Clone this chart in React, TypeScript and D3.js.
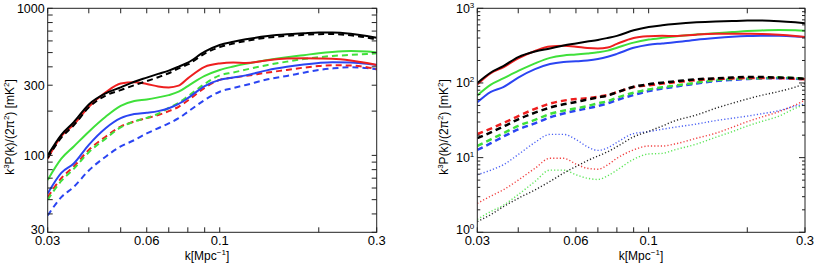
import React from 'react';
import * as d3 from 'd3';

// wavenumbers shared by every curve
const kValues = [0.03, 0.033, 0.036, 0.04, 0.045, 0.05, 0.055, 0.06, 0.065, 0.07, 0.075, 0.08,
  0.09, 0.1, 0.11, 0.12, 0.14, 0.16, 0.18, 0.2, 0.22, 0.25, 0.28, 0.3];

// full signal (solid), both panels
const blackSolid = [100, 138, 168, 222, 264, 290, 317, 338, 358, 377, 401, 427, 507, 563, 592, 615, 648, 666, 676, 684, 686, 672, 648, 630];
const redSolid = [95, 135, 162, 214, 268, 308, 314, 306, 294, 290, 298, 334, 400, 422, 428, 424, 444, 455, 457, 456, 454, 442, 425, 412];
const greenSolid = [68, 95, 115, 145, 183, 217, 234, 240, 248, 257, 271, 296, 347, 381, 402, 419, 445, 465, 480, 495, 505, 512, 508, 500];
const blueSolid = [55, 76, 88, 118, 153, 179, 191, 195, 200, 209, 224, 245, 296, 326, 338, 350, 380, 400, 415, 425, 430, 428, 420, 412];

// left panel, dashed
const blackDashL = [96, 132, 160, 212, 255, 278, 300, 320, 340, 362, 390, 415, 492, 545, 576, 600, 632, 650, 660, 667, 668, 655, 632, 612];
const redDashL = [52, 70, 84, 109, 134, 157, 170, 179, 188, 200, 214, 236, 288, 326, 338, 347, 366, 381, 395, 405, 410, 408, 398, 385];
const greenDashL = [50, 67, 81, 105, 130, 155, 170, 180, 192, 210, 228, 252, 306, 350, 366, 383, 412, 434, 452, 465, 474, 482, 489, 494];
const blueDashL = [39, 52, 61, 79, 98, 115, 127, 141, 153, 165, 179, 198, 238, 271, 287, 301, 329, 347, 365, 381, 390, 397, 392, 385];

// right panel, dashed
const blackDashR = [18.2, 21.8, 26, 32.6, 40, 46.8, 51.8, 55.6, 60, 64, 68, 75, 89, 96, 101, 105, 112, 115.5, 118, 120, 120, 118, 116, 114];
const redDashR = [20.7, 24.5, 29, 36, 45, 53, 58, 61, 62.5, 65.5, 69, 75, 88, 93, 98, 102, 109, 113, 115, 117, 117, 116, 114, 112];
const greenDashR = [14.3, 17.6, 21.2, 26.6, 32, 38.5, 42.6, 45.7, 49, 53.4, 57, 63.6, 74, 82, 87.5, 92, 101, 109, 113, 115, 116, 118, 116, 114];
const blueDashR = [12.7, 15.6, 19.1, 23.9, 28.8, 34.7, 39, 42.6, 45.7, 49, 53.4, 59, 69, 78, 84, 89, 98, 106, 110, 113, 115, 116, 114, 112];

// right panel, dotted
const blackDotR = [1.39, 1.73, 2.2, 2.85, 3.7, 4.8, 6.2, 7.6, 9.1, 10.5, 12, 14, 19, 22.5, 26.5, 31, 37.3, 45.8, 53.5, 61, 68, 77, 88, 98];
const redDotR = [2.44, 3.06, 3.7, 5.0, 7.2, 9.8, 9.8, 8.2, 7.2, 7.0, 8, 9.8, 12.7, 14.3, 14.3, 15.2, 18.2, 21.2, 25.5, 30.3, 34.7, 41.3, 50.7, 59];
const greenDotR = [1.49, 1.9, 2.3, 3.2, 4.8, 6.8, 6.8, 5.9, 5.3, 5.1, 5.7, 6.8, 9.5, 11.2, 11.4, 12.7, 15.2, 18.7, 22.3, 26.5, 30.3, 36, 45.8, 52];
const blueDotR = [5.9, 6.8, 8.0, 11, 16, 20.5, 20.5, 17.5, 14, 12.5, 13.5, 16, 21, 22.3, 24, 25.5, 28.2, 31.3, 33.7, 36, 38.5, 42.6, 49, 52];

const xTicks = [0.03, 0.04, 0.05, 0.06, 0.07, 0.08, 0.09, 0.1, 0.2, 0.3];
const xLabels = ['0.03', '0.06', '0.1', '0.3'];
const leftYLabels = ['30', '100', '300', '1000'];
const rightYLabels = ['0', '1', '2', '3']; // exponents of 10

const RED = '#ee1f1f';
const GREEN = '#3fe03a';
const BLUE = '#2b45f2';
const BLACK = '#000';

const font = '"Liberation Sans", Arial, sans-serif';

const line = (x, y) =>
  d3.line<number>()
    .x((_, i) => x(kValues[i]))
    .y(d => y(d))
    .curve(d3.curveMonotoneX);

function Panel({ x0, x1, y0, y1, yDomain, series, log10Labels, titleX, xTitleX }) {
  const x = d3.scaleLog().domain([0.03, 0.3]).range([x0, x1]);
  const y = d3.scaleLog().domain(yDomain).range([y1, y0]);
  const yTicks = y.ticks();
  const gen = line(x, y);
  const clipId = `clip${Math.round(x0)}`;
  // lowest label sits a touch higher so it clears the 0.03 label
  const labelY = v => y(v) + 4.5 - (Math.abs(y(v) - y1) < 1 ? 2.5 : 0);
  return (
    <g>
      <defs>
        <clipPath id={clipId}>
          <rect x={x0} y={y0} width={x1 - x0} height={y1 - y0} />
        </clipPath>
      </defs>
      <g clipPath={`url(#${clipId})`}>
        {series.map((s, i) => (
          <path key={i} d={gen(s.values)} fill="none" stroke={s.color}
            strokeWidth={s.width} strokeDasharray={s.dash} opacity={s.opacity ?? 1} />
        ))}
      </g>
      <rect x={x0} y={y0} width={x1 - x0} height={y1 - y0} fill="none" stroke="#222" strokeWidth={1} />
      {xTicks.map(t => (
        <g key={t}>
          <line x1={x(t)} x2={x(t)} y1={y1} y2={y1 - 5} stroke="#222" />
          <line x1={x(t)} x2={x(t)} y1={y0} y2={y0 + 5} stroke="#222" />
        </g>
      ))}
      {yTicks.map(t => {
        const major = Math.abs(Math.log10(t) - Math.round(Math.log10(t))) < 1e-6;
        const len = log10Labels ? (major ? 6 : 3) : 5;
        return (
          <g key={t}>
            <line x1={x0} x2={x0 + len} y1={y(t)} y2={y(t)} stroke="#222" />
            <line x1={x1} x2={x1 - len} y1={y(t)} y2={y(t)} stroke="#222" />
          </g>
        );
      })}
      {xLabels.map(l => (
        <text key={l} x={x(+l)} y={y1 + 13} textAnchor="middle" fontSize={13} fontFamily={font}>{l}</text>
      ))}
      {log10Labels
        ? rightYLabels.map(e => (
          <text key={e} x={x0 - 3} y={labelY(Math.pow(10, +e))} textAnchor="end" fontSize={12.5} fontFamily={font}>
            10<tspan fontSize={8} dy={-5}>{e}</tspan>
          </text>
        ))
        : leftYLabels.map(l => (
          <text key={l} x={x0 - 3} y={labelY(+l)} textAnchor="end" fontSize={12.5} fontFamily={font}>{l}</text>
        ))}
      <text x={xTitleX} y={260} textAnchor="middle" fontSize={12} fontFamily={font}>
        k[Mpc<tspan fontSize={8} dy={-5}>−1</tspan><tspan dy={5}>]</tspan>
      </text>
      <text transform={`translate(${titleX},127) rotate(-90)`} textAnchor="middle" fontSize={12} fontFamily={font}>
        k<tspan fontSize={8} dy={-5}>3</tspan><tspan dy={5}>P(k)/(2π</tspan><tspan fontSize={8} dy={-5}>2</tspan>
        <tspan dy={5}>) [mK</tspan><tspan fontSize={8} dy={-5}>2</tspan><tspan dy={5}>]</tspan>
      </text>
    </g>
  );
}

const solid = (values, color) => ({ values, color, width: 2 });
const dashed = (values, color, width = 2) => ({ values, color, width, dash: '6 4' });
const dotted = (values, color) => ({ values, color, width: 1.4, dash: '1.2 2.1', opacity: 0.85 });

export default function App() {
  const leftSeries = [
    dashed(blueDashL, BLUE), dashed(redDashL, RED), dashed(greenDashL, GREEN),
    solid(blueSolid, BLUE), solid(greenSolid, GREEN), solid(redSolid, RED),
    dashed(blackDashL, BLACK), solid(blackSolid, BLACK),
  ];
  const rightSeries = [
    dotted(greenDotR, GREEN), dotted(redDotR, RED), dotted(blueDotR, BLUE), dotted(blackDotR, BLACK),
    dashed(blueDashR, BLUE, 2.5), dashed(greenDashR, GREEN, 2.5), dashed(redDashR, RED, 2.5), dashed(blackDashR, BLACK, 2.5),
    solid(blueSolid, BLUE), solid(greenSolid, GREEN), solid(redSolid, RED), solid(blackSolid, BLACK),
  ];
  return (
    <svg width={814} height={264} style={{ position: 'absolute', left: 0, top: 0, background: '#fff' }}>
      <Panel x0={47.7} x1={376.7} y0={8.3} y1={232.3} yDomain={[30, 1000]} series={leftSeries}
        log10Labels={false} titleX={14} xTitleX={207} />
      <Panel x0={477.3} x1={805} y0={8.3} y1={232.3} yDomain={[1, 1000]} series={rightSeries}
        log10Labels={true} titleX={448} xTitleX={641} />
    </svg>
  );
}
